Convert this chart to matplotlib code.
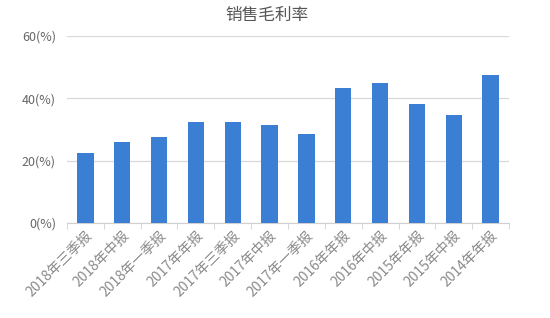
import matplotlib
matplotlib.use("Agg")
import matplotlib.pyplot as plt
import numpy as np

plt.rcParams["font.family"] = ["Noto Sans CJK SC", "DejaVu Sans"]

periods = [
    "2018年三季报", "2018年中报", "2018年一季报", "2017年年报", "2017年三季报", "2017年中报",
    "2017年一季报", "2016年年报", "2016年中报", "2015年年报", "2015年中报", "2014年年报",
]
gross_margin = [22.5, 25.9, 27.5, 32.4, 32.4, 31.5, 28.6, 43.4, 44.9, 38.1, 34.6, 47.6]
y_ticks = [0, 20, 40, 60]
y_labels = ["0(%)", "20(%)", "40(%)", "60(%)"]

fig = plt.figure(figsize=(5.5, 3.18), dpi=100)
ax = fig.add_axes([67 / 550, 1 - 223 / 318, 442 / 550, 187 / 318])

x = np.arange(len(periods))
ax.bar(x, gross_margin, width=0.44, color="#3A7FD4", zorder=3)
ax.set_xlim(-0.5, len(periods) - 0.5)
ax.set_ylim(0, 60)
ax.set_yticks(y_ticks)
ax.set_yticklabels(y_labels, fontsize=9, color="#666666")
ax.yaxis.grid(True, color="#d9d9d9", linewidth=0.9, zorder=0)
ax.tick_params(axis="y", length=0, pad=8)

ax.set_xticks(x)
ax.set_xticklabels(periods, rotation=45, ha="right", rotation_mode="anchor",
                   fontsize=10, color="#8a8a8a")
ax.set_xticks(np.arange(-0.5, len(periods)), minor=True)
ax.tick_params(axis="x", which="major", length=0, pad=4)
ax.tick_params(axis="x", which="minor", length=4, color="#d0d0d0")

for side in ["top", "right", "left"]:
    ax.spines[side].set_visible(False)
ax.spines["bottom"].set_color("#d0d0d0")

fig.text(267 / 550, 1 - 15 / 318, "销售毛利率", ha="center", va="center", fontsize=12, color="#555555")

fig.savefig("out.png", dpi=100)
